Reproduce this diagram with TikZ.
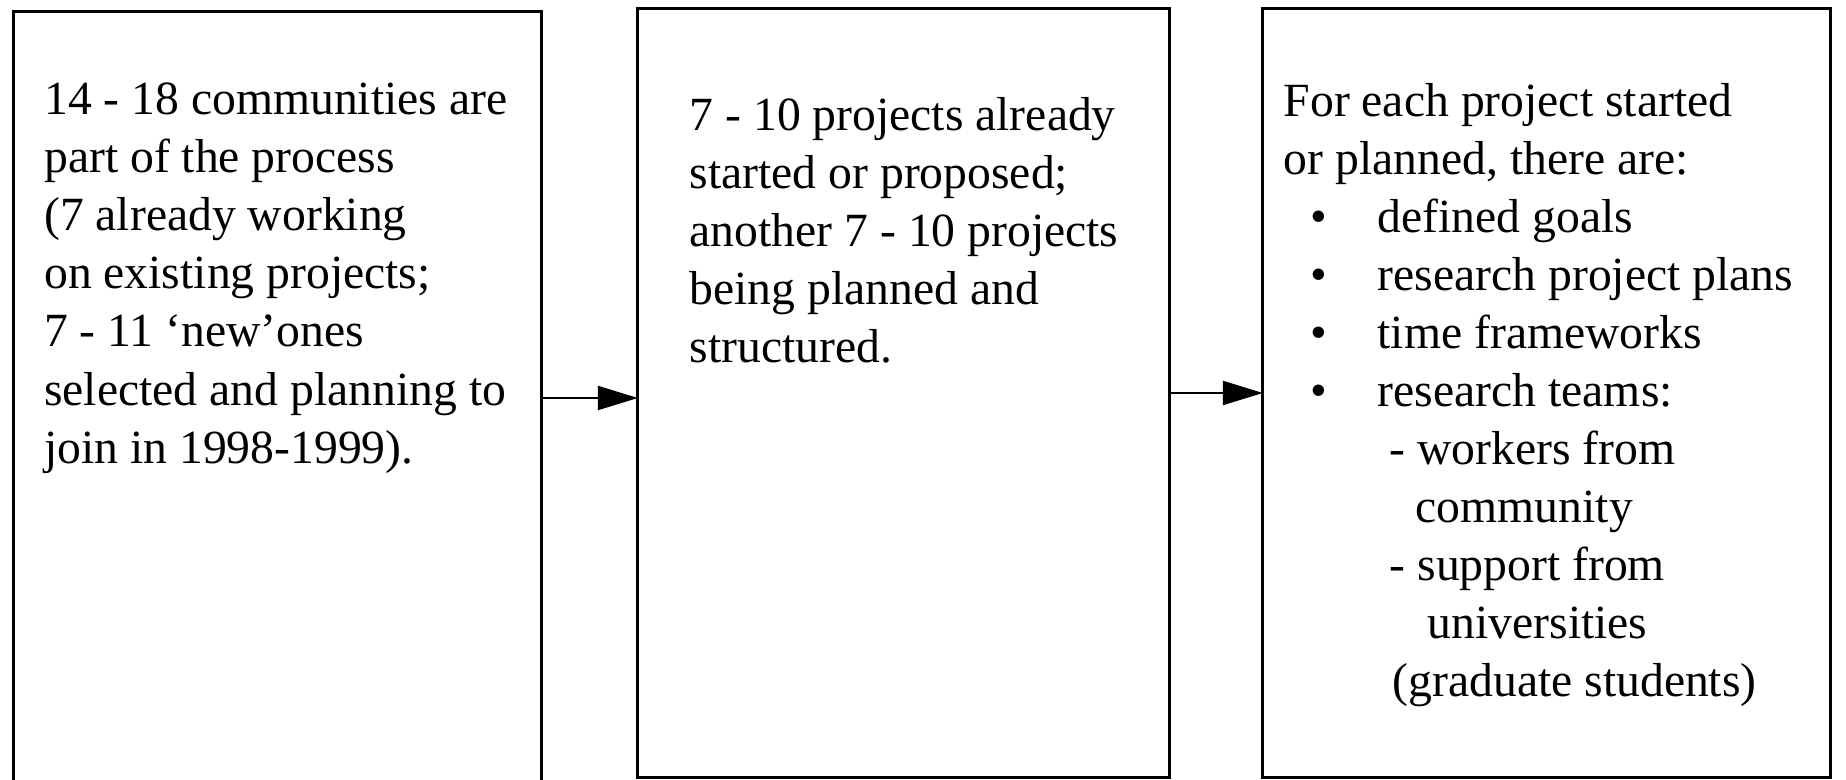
\documentclass[tikz,border=0pt]{standalone}
\usepackage{fontspec}
\setmainfont{Liberation Serif}
\usetikzlibrary{arrows.meta}
\newcommand{\bul}{\makebox[0.94cm][l]{\hspace*{0.27cm}\textbullet}}
\newcommand{\gap}[1]{\makebox[#1][l]{}}
\begin{document}
\begin{tikzpicture}[x=0.01cm,y=-0.01cm,
	panel/.style={draw,line width=0.8pt,inner sep=0pt,outer sep=0pt},
	txt/.style={anchor=north west,align=left,inner sep=0pt,font=\fontsize{13.55pt}{16.5pt}\selectfont},
	flow/.style={line width=0.6pt,-{Triangle[length=0.4cm,width=0.24cm]}}]

\clip (0,0) rectangle (1846,780);
\fill[white] (0,0) rectangle (1846,780);

\node[panel,minimum width=5.27cm,minimum height=7.72cm] (comm) at (277.5,398) {};
\node[panel,minimum width=5.31cm,minimum height=7.68cm] (proj) at (903.5,393) {};
\node[panel,minimum width=5.67cm,minimum height=7.68cm] (plan) at (1546.5,393) {};

\node[txt] (commtxt) at (43.5,82.5) {14 - 18 communities are\\part of the process\\(7 already working\\on existing projects;\\7 - 11 ‘new’ones\\selected and planning to\\join in 1998-1999).};
\node[txt] (projtxt) at (689,96.5) {7 - 10 projects already\\started or proposed;\\another 7 - 10 projects\\being planned and\\structured.};
\node[txt] (plantxt) at (1283,82.5) {For each project started\\or planned, there are:\\\bul defined goals\\\bul research project plans\\\bul time frameworks\\\bul research teams:\\\gap{1.06cm}- workers from\\\gap{1.32cm}community\\\gap{1.06cm}- support from\\\gap{1.44cm}universities\\\gap{1.09cm}(graduate students)};

\draw[flow] (comm.east) -- (comm.east -| proj.west);
\draw[flow] (proj.east) -- (proj.east -| plan.west);
\end{tikzpicture}
\end{document}
